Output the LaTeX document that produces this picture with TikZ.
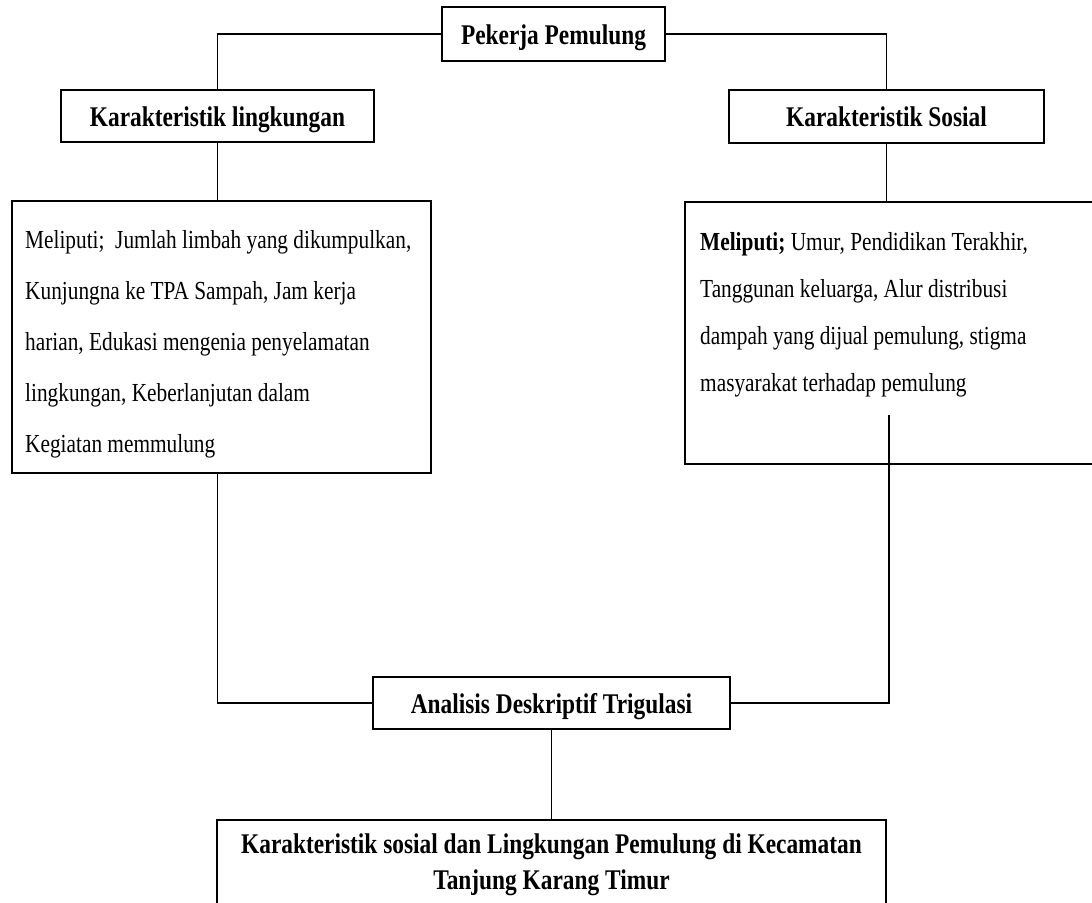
\documentclass[tikz,border=0pt]{standalone}
\usepackage{fontspec}
\setmainfont{Liberation Serif}[FakeStretch=0.82]
\begin{document}
\begin{tikzpicture}[x=1pt, y=-1pt,
        kotak/.style={draw, line width=1.7pt, inner sep=0pt, text height=21pt, text depth=1pt, font=\fontsize{28.5}{34}\selectfont\bfseries},
        teks/.style={inner sep=0pt, align=left},
        garis/.style={line width=1.5pt}]
            \useasboundingbox (0, 0) rectangle (1092, 902);
            % judul dan dua karakteristik
            \node [kotak, minimum width=223, minimum height=54] (pekerja) at (553.5, 34) {Pekerja Pemulung};
            \node [kotak, minimum width=313, minimum height=52] (linghead) at (217.5, 116) {Karakteristik lingkungan};
            \node [kotak, minimum width=315, minimum height=53] (sosialhead) at (886.5, 116.5) {Karakteristik Sosial};
            % kotak isi
            \node [kotak, minimum width=419, minimum height=272, anchor=north west] (lingbox) at (11, 200) {};
            \node [teks, anchor=north west, font=\fontsize{26}{51}\selectfont] (lingteks) at (25, 230)
                {Meliputi;\ \ Jumlah limbah yang dikumpulkan,\\ Kunjungna ke TPA Sampah, Jam kerja\\ harian, Edukasi mengenia penyelamatan\\ lingkungan, Keberlanjutan dalam\\ Kegiatan memmulung};
            \node [kotak, minimum width=420, minimum height=262, anchor=north west] (sosialbox) at (684, 201) {};
            \node [teks, anchor=north west, font=\fontsize{26}{47}\selectfont] (sosialteks) at (700, 232)
                {\textbf{Meliputi;} Umur, Pendidikan Terakhir,\\ Tanggunan keluarga, Alur distribusi\\ dampah yang dijual pemulung, stigma\\ masyarakat terhadap pemulung};
            % analisis dan hasil
            \node [kotak, minimum width=357, minimum height=52] (analisis) at (551.5, 703) {Analisis Deskriptif Trigulasi};
            \node [kotak, minimum width=669, minimum height=100, anchor=north] (hasil) at (551.5, 819) {};
            \node [teks, align=center, anchor=north, font=\fontsize{28.5}{36}\selectfont\bfseries] (hasilteks) at (551.5, 834)
                {Karakteristik sosial dan Lingkungan Pemulung di Kecamatan\\ Tanjung Karang Timur};
            \coordinate (sosialujung) at (889, 415);
            \draw [garis] (pekerja.west) -| (linghead.north);
            \draw [garis] (pekerja.east) -| (sosialhead.north);
            \draw [garis] (linghead.south) -- (linghead.south |- lingbox.north);
            \draw [garis] (sosialhead.south) -- (sosialhead.south |- sosialbox.north);
            \draw [garis] (linghead.south |- lingbox.south) |- (analisis.west);
            \draw [garis] (sosialujung) |- (analisis.east);
            \draw [garis] (analisis.south) -- (hasil.north);
        \end{tikzpicture}
\end{document}
